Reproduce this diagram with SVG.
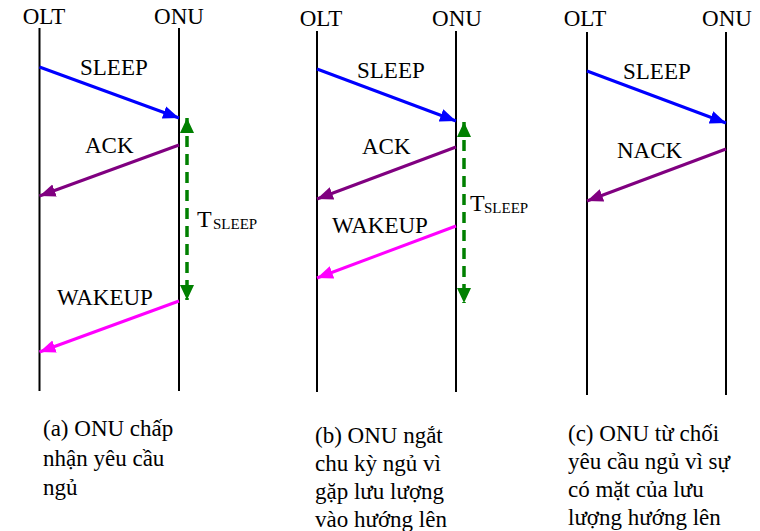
<svg xmlns="http://www.w3.org/2000/svg" width="760" height="531" viewBox="0 0 760 531">
<style>
text{font-family:"Liberation Serif","DejaVu Serif",serif;fill:#000}
.t{font-size:23px;text-anchor:middle}
.lbl{font-size:23px}
.cap{font-size:23px}
.life{stroke:#000;stroke-width:2;fill:none}
.msg{stroke-width:3;fill:none}
.blue{stroke:#0000ff}
.purple{stroke:#800080}
.mag{stroke:#ff00ff}
.green{stroke:#008000;stroke-width:3.5;stroke-dasharray:11 7;fill:none}
</style>
<defs>
<marker id="aBlue" markerUnits="userSpaceOnUse" markerWidth="17" markerHeight="14" refX="16" refY="6.5" orient="auto"><path d="M0,0 L16,6.5 L0,13 z" fill="#0000ff"/></marker>
<marker id="aPurple" markerUnits="userSpaceOnUse" markerWidth="17" markerHeight="14" refX="16" refY="6.5" orient="auto"><path d="M0,0 L16,6.5 L0,13 z" fill="#800080"/></marker>
<marker id="aMag" markerUnits="userSpaceOnUse" markerWidth="17" markerHeight="14" refX="16" refY="6.5" orient="auto"><path d="M0,0 L16,6.5 L0,13 z" fill="#ff00ff"/></marker>
<marker id="aGreen" markerUnits="userSpaceOnUse" markerWidth="16" markerHeight="15" refX="15" refY="7" orient="auto-start-reverse"><path d="M0,0 L15,7 L0,14 z" fill="#008000"/></marker>
</defs>

<g id="a-olt"><text class="t" x="44" y="24">OLT</text><line class="life" x1="39.5" y1="28" x2="39.5" y2="391"/></g>
<g id="a-onu"><text class="t" x="179" y="24">ONU</text><line class="life" x1="179" y1="28" x2="179" y2="391"/></g>
<g id="b-olt"><text class="t" x="321" y="26">OLT</text><line class="life" x1="317" y1="31" x2="317" y2="392"/></g>
<g id="b-onu"><text class="t" x="457" y="26">ONU</text><line class="life" x1="456" y1="31" x2="456" y2="392"/></g>
<g id="c-olt"><text class="t" x="585" y="26">OLT</text><line class="life" x1="587" y1="32" x2="587" y2="395"/></g>
<g id="c-onu"><text class="t" x="727" y="26">ONU</text><line class="life" x1="726" y1="32" x2="726" y2="395"/></g>

<g id="connectors">
<path class="msg blue" d="M39.5,67 L179,118" marker-end="url(#aBlue)"/>
<text class="lbl" x="80" y="75">SLEEP</text>
<path class="msg purple" d="M179,145 L39.5,196" marker-end="url(#aPurple)"/>
<text class="lbl" x="85" y="153">ACK</text>
<path class="msg mag" d="M179,301 L39.5,352" marker-end="url(#aMag)"/>
<text class="lbl" x="57" y="305">WAKEUP</text>
<path class="green" d="M187,118 L187,300" marker-start="url(#aGreen)" marker-end="url(#aGreen)"/>
<text x="197" y="227" font-size="24">T</text><text x="213" y="229" font-size="15">SLEEP</text>

<path class="msg blue" d="M317,69 L456,121" marker-end="url(#aBlue)"/>
<text class="lbl" x="357" y="78">SLEEP</text>
<path class="msg purple" d="M456,147 L317,199" marker-end="url(#aPurple)"/>
<text class="lbl" x="362" y="154">ACK</text>
<path class="msg mag" d="M456,226 L317,278" marker-end="url(#aMag)"/>
<text class="lbl" x="332" y="233">WAKEUP</text>
<path class="green" d="M464,122 L464,303" marker-start="url(#aGreen)" marker-end="url(#aGreen)"/>
<text x="470" y="211" font-size="24">T</text><text x="484" y="213" font-size="15">SLEEP</text>

<path class="msg blue" d="M587,71 L726,123" marker-end="url(#aBlue)"/>
<text class="lbl" x="623" y="79">SLEEP</text>
<path class="msg purple" d="M726,149 L587,201" marker-end="url(#aPurple)"/>
<text class="lbl" x="617" y="158">NACK</text>
</g>

<g id="captions">
<text class="cap" x="43" y="436">(a) ONU chấp</text>
<text class="cap" x="43" y="466">nhận yêu cầu</text>
<text class="cap" x="43" y="495">ngủ</text>
<text class="cap" x="315" y="443">(b) ONU ngắt</text>
<text class="cap" x="315" y="471">chu kỳ ngủ vì</text>
<text class="cap" x="315" y="499">gặp lưu lượng</text>
<text class="cap" x="315" y="527">vào hướng lên</text>
<text class="cap" x="568" y="441">(c) ONU từ chối</text>
<text class="cap" x="568" y="469">yêu cầu ngủ vì sự</text>
<text class="cap" x="568" y="497">có mặt của lưu</text>
<text class="cap" x="568" y="525">lượng hướng lên</text>
</g>
</svg>
